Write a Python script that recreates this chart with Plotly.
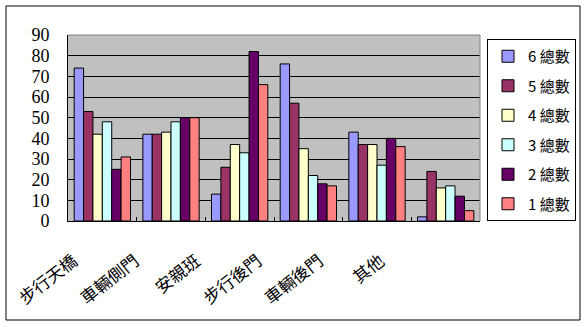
import plotly.graph_objects as go

categories = ["步行天橋", "車輛側門", "安親班", "步行後門", "車輛後門", "其他"]
series_names = ["6 總數", "5 總數", "4 總數", "3 總數", "2 總數", "1 總數"]
s6 = [74, 42, 13, 76, 43, 2]
s5 = [53, 42, 26, 57, 37, 24]
s4 = [42, 43, 37, 35, 37, 16]
s3 = [48, 48, 33, 22, 27, 17]
s2 = [25, 50, 82, 18, 40, 12]
s1 = [31, 50, 66, 17, 36, 5]
series_values = [s6, s5, s4, s3, s2, s1]
colors = ["#9999FF", "#993366", "#FFFFCC", "#CCFFFF", "#660066", "#FF8080"]
y_ticks = [0, 10, 20, 30, 40, 50, 60, 70, 80, 90]

fig = go.Figure()
for name, vals, col in zip(series_names, series_values, colors):
    fig.add_trace(go.Bar(
        x=categories, y=vals, name=name, legendgroup=name,
        marker=dict(color=col, line=dict(color="black", width=1)),
    ))

W, H = 588, 327
L, R, T, B = 68, 108, 35, 106
pw, ph = W - L - R, H - T - B

def px_x(x):
    return (x - L) / pw

def px_y(y):
    return (H - B - y) / ph

fig.update_layout(
    width=W, height=H,
    margin=dict(l=L, r=R, t=T, b=B),
    paper_bgcolor="white",
    plot_bgcolor="#C0C0C0",
    barmode="group", bargap=0.18, bargroupgap=0,
    showlegend=True,
    legend=dict(
        x=px_x(487), y=px_y(39), xanchor="left", yanchor="top",
        bordercolor="black", borderwidth=1, bgcolor="white",
        font=dict(family="Noto Sans CJK TC", size=15, color="black"),
        tracegroupgap=7, itemwidth=30,
    ),
    xaxis=dict(
        type="category", showticklabels=False, showline=True, linecolor="black",
        linewidth=1, ticks="inside", tickson="boundaries", ticklen=4,
        tickcolor="black", showgrid=False, zeroline=False,
    ),
    xaxis2=dict(
        overlaying="x", anchor="y", side="bottom",
        range=[-0.09, 6.62], tickmode="array",
        tickvals=list(range(len(categories))), ticktext=categories,
        tickangle=-38, showline=False, showgrid=False, zeroline=False, ticks="",
        tickfont=dict(family="Noto Sans CJK TC", size=17, color="black"),
        ticklabelstandoff=26,
    ),
    yaxis=dict(
        range=[0, 90], tickvals=y_ticks, showline=True, linecolor="black",
        linewidth=1, showgrid=True, gridcolor="black", gridwidth=1,
        zeroline=False, ticks="", ticklabelstandoff=14,
        tickfont=dict(family="Liberation Serif", size=18, color="black"),
    ),
    shapes=[
        dict(type="line", xref="paper", yref="paper", x0=0, x1=1, y0=1, y1=1,
             line=dict(color="#808080", width=1)),
        dict(type="line", xref="paper", yref="paper", x0=1, x1=1, y0=0, y1=1,
             line=dict(color="#808080", width=1)),
        dict(type="rect", xref="paper", yref="paper",
             x0=px_x(6), x1=px_x(580), y0=px_y(320), y1=px_y(6),
             line=dict(color="black", width=1), fillcolor="rgba(0,0,0,0)"),
    ],
)
# invisible trace so the label axis is rendered
fig.add_trace(go.Scatter(x=[0], y=[0], xaxis="x2", mode="markers",
                         marker=dict(opacity=0), showlegend=False, hoverinfo="skip"))

fig.write_html("out.html")
